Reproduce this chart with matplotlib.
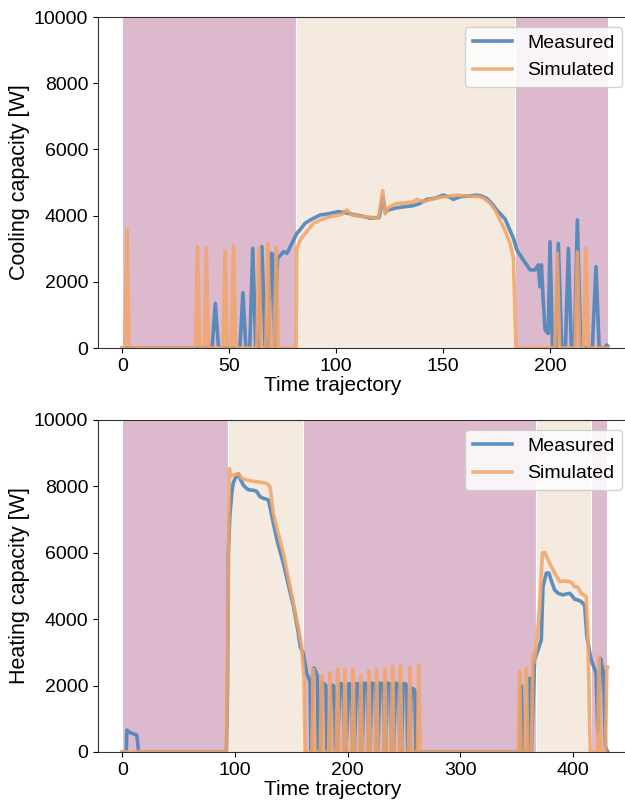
import matplotlib.pyplot as plt

plt.rcParams["font.family"] = ["Liberation Sans", "DejaVu Sans"]
plt.rcParams["font.size"] = 14

# ---- cooling (top panel) ----
cool_meas_t = [0, 42, 43.5, 45, 55, 56.4, 57.8, 59.6, 61, 62.4, 63.8, 65.3, 66.8, 68.4, 69.6, 70.5,
               71.3, 72.6, 75.4, 77, 79.3, 81.6, 83, 85.5, 88, 92.5, 96, 101, 105, 108.9, 112, 115.9,
               120.2, 121.8, 123, 124.5, 128, 132.2, 136, 139.3, 142.4, 146, 150.1, 153, 154.8, 158,
               162, 165.7, 168, 170.4, 173, 175.1, 179, 183, 184.5, 187.5, 190.7, 193, 194.5, 195.3,
               196, 196.9, 197.7, 199.2, 200, 201.2, 202.8, 203.9, 205.5, 207.2, 208.6, 210, 211.4,
               212.8, 214.4, 219.8, 221.5, 223, 225.8, 226.5, 227]
cool_meas_v = [0, 0, 1350, 0, 0, 1670, 0, 0, 3010, 0, 0, 3060, 0, 0, 2860, 2820,
               50, 2700, 2910, 2860, 3160, 3460, 3560, 3770, 3870, 4020, 4050, 4120, 4080, 4020, 3990, 3920,
               3950, 4550, 4100, 4170, 4230, 4270, 4300, 4370, 4490, 4520, 4620, 4560, 4490, 4570,
               4590, 4620, 4590, 4520, 4350, 4170, 3900, 3300, 2960, 2660, 2360, 2360, 2510, 1850,
               2510, 1350, 540, 440, 3210, 0, 0, 3160, 0, 0, 3010, 0, 0,
               3870, 0, 0, 2460, 0, 0, 90, 60]

cool_sim_t = [0, 1.2, 2.2, 3.2, 34.2, 35.2, 36.2, 38.3, 39.3, 40.3, 47.1, 48.1, 49.1, 51, 52, 53,
              62.9, 63.9, 64.9, 67.1, 68.1, 69.1, 71, 72, 73, 81.3, 81.6, 83.5, 86.3, 89.4, 93, 97.2,
              101, 103, 105, 107.3, 110, 112.8, 116, 119.8, 121.8, 123, 124.5, 128.4, 132, 136.1,
              137.7, 140.8, 144, 148.6, 152, 156.4, 160, 164, 167.3, 169, 172, 174.5, 176.6, 179,
              181.3, 182.9, 184.1, 202.3, 203.4, 204.5, 211.7, 212.8, 213.9, 215.7, 216.8, 217.9, 227]
cool_sim_v = [0, 0, 3580, 0, 0, 3060, 0, 0, 3020, 0, 0, 2940, 0, 0, 3090, 0,
              0, 3020, 0, 0, 3160, 0, 0, 3040, 0, 0, 3010, 3300, 3520, 3770, 3880, 3970,
              4010, 4050, 4170, 4020, 3990, 3970, 3950, 3920, 4750, 4050, 4250, 4370, 4380, 4420,
              4490, 4420, 4480, 4550, 4580, 4620, 4600, 4580, 4570, 4530, 4370, 4150, 3870, 3550,
              3160, 2710, 0, 0, 2860, 0, 0, 2900, 0, 0, 3010, 0, 0]

# operating modes: (start, end, mode) 0 = off/cycling, 1 = steady
cool_modes = [(0, 81.3, 0), (81.3, 183.6, 1), (183.6, 227, 0)]

# ---- heating (bottom panel) ----
heat_meas_t = [0, 3.5, 4.1, 6, 9, 12, 13, 14.5, 92.5, 93.5, 94.2, 95.5, 97.2, 98.5, 100.2, 103.1,
               105, 107.5, 110, 112, 114.9, 117, 119.4, 122, 125.3, 127.5, 129.8, 131, 134.1, 138,
               143, 147, 152, 156, 158, 160.7, 163.7, 166.7, 167.6,
               169, 170.2, 172, 173.2, 174, 175.8, 177.2, 179.5, 180.8, 181.6, 183.5, 185.9, 187.5,
               188.5, 189.3, 191, 193.3, 195, 196.2, 197, 198.5, 201.2, 202.7, 203.6, 204.4, 206,
               208, 210, 210.9, 211.6, 213, 214.5, 216.5, 217.6, 218.4, 220, 221.4, 223.5, 224.6,
               225.4, 227, 228.7, 230.7, 231.8, 232.6, 234, 235.2, 237.3, 238.4, 239.2, 241, 242.6,
               244.6, 245.7, 246.5, 248, 249.4, 251.5, 252.6, 253.4, 255, 256.8, 258.6, 259.8, 260.6,
               353, 354.3, 355.7, 360.3, 361.7, 363.2, 366.1, 369.1, 372, 373.5, 376.5, 378.8, 381,
               383.9, 387, 391.2, 394, 397.2, 399.5, 401.6, 404.5, 407.5, 410.5, 412.5, 416.3, 420.7,
               422.2, 424.6, 427.3, 429, 431]
heat_meas_v = [0, 0, 660, 600, 560, 520, 500, 0, 0, 2000, 5980, 7100, 7800, 8100, 8240, 8380,
               8200, 8040, 7950, 7900, 7890, 7880, 7850, 7700, 7640, 7620, 7590, 7400, 6890, 6300,
               5690, 5100, 4390, 3650, 3170, 2970, 2370, 2120, 0,
               2300, 2530, 2400, 2300, 0, 0, 2100, 2050, 2000, 0, 0, 2020, 2000,
               1950, 0, 0, 2060, 2050, 2000, 0, 0, 2060, 2050, 2000, 0, 0,
               2060, 2050, 1980, 0, 0, 2070, 2060, 2000, 0, 0, 2070, 2060, 2000,
               0, 0, 2070, 2060, 2000, 0, 0, 2070, 2060, 2000, 0, 0, 2070,
               2060, 2000, 0, 0, 2060, 2050, 1980, 0, 0, 1920, 1900, 1850, 0,
               0, 1990, 0, 0, 2220, 0, 2770, 3070, 3370, 4980, 5390, 5390, 5150,
               4880, 4780, 4730, 4760, 4780, 4700, 4600, 4580, 4530, 4420, 3470, 2770, 2370,
               560, 2820, 2370, 160, 0]

heat_sim_t = [0, 92.5, 95.1, 96, 97.2, 100, 103.1, 106, 110.5, 115, 119.4, 124, 128.3, 131.2,
              134.1, 138, 143, 147, 152, 156, 159.3, 161.3, 162.3,
              168.3, 169.6, 170.9, 175.7, 177, 178.3, 183.1, 184.4, 185.7, 189.9, 191.2, 192.5,
              196.4, 197.7, 199, 203.7, 205, 206.3, 210.6, 211.9, 213.2, 217.7, 219, 220.3,
              224.5, 225.8, 227.1, 231.9, 233.2, 234.5, 238.7, 240, 241.3, 245.7, 247, 248.3,
              254, 255.3, 256.6, 262, 263.3, 264.6,
              351.5, 352.8, 354, 357.5, 358.8, 360, 363.3, 364.6, 365.5, 367.6, 370.6, 373, 375,
              379.4, 383.9, 388.3, 392, 397.2, 399, 401.6, 404, 407.5, 411.9, 413.4, 415.5, 422,
              423.2, 424.4, 429, 430.2, 431]
heat_sim_v = [0, 0, 8540, 8300, 8330, 8350, 8380, 8250, 8190, 8160, 8140, 8120, 8090, 7990,
              7190, 6650, 5980, 5300, 4480, 3800, 3170, 2170, 0,
              0, 2490, 0, 0, 2290, 0, 0, 2400, 0, 0, 2490, 0,
              0, 2490, 0, 0, 2490, 0, 0, 2290, 0, 0, 2450, 0,
              0, 2490, 0, 0, 2490, 0, 0, 2590, 0, 0, 2590, 0,
              0, 2560, 0, 0, 2620, 0,
              0, 2420, 0, 0, 2520, 0, 0, 2920, 2700, 3170, 4390, 5990, 6010,
              5690, 5390, 5130, 5150, 5130, 5100, 4980, 4980, 4780, 4680, 3470, 0, 0,
              2870, 0, 0, 2570, 2560]

heat_modes = [(0, 93.7, 0), (93.7, 160.7, 1), (160.7, 367, 0), (367, 415.8, 1), (415.8, 430, 0)]

MODE_COLORS = {0: "#DDB9CE", 1: "#F4EAE0"}
BLUE = "#4C84BA"
ORANGE = "#F2A466"


def draw_panel(ax, t_meas, v_meas, t_sim, v_sim, modes, ylabel):
    for start, end, mode in modes:
        ax.axvspan(start, end, facecolor=MODE_COLORS[mode], edgecolor="white", linewidth=0.8, zorder=0)

    ax.plot(t_meas, v_meas, color=BLUE, lw=2.6, alpha=0.9, label="Measured", zorder=2)
    ax.plot(t_sim, v_sim, color=ORANGE, lw=2.6, alpha=0.85, label="Simulated", zorder=3)

    ax.set_ylim(0, 10000)
    ax.set_yticks([0, 2000, 4000, 6000, 8000, 10000])
    # figure is cut on the right, so the label sits left of the axes centre
    ax.set_xlabel("Time trajectory", labelpad=1, x=0.44, fontsize=15)
    ax.set_ylabel(ylabel, fontsize=15.5, labelpad=3)
    ax.spines["right"].set_visible(False)
    for s in ["left", "bottom", "top"]:
        ax.spines[s].set_color("#333333")
    ax.legend(loc="upper right", fontsize=14, framealpha=0.85)


fig = plt.figure(figsize=(6.25, 8), dpi=100)
ax1 = fig.add_axes([0.1568, 0.565, 0.8544, 0.41375])
ax2 = fig.add_axes([0.1568, 0.06, 0.8544, 0.415])

draw_panel(ax1, cool_meas_t, cool_meas_v, cool_sim_t, cool_sim_v, cool_modes, "Cooling capacity [W]")
draw_panel(ax2, heat_meas_t, heat_meas_v, heat_sim_t, heat_sim_v, heat_modes, "Heating capacity [W]")

ax1.set_xticks([0, 50, 100, 150, 200])
ax2.set_xticks([0, 100, 200, 300, 400])

fig.savefig("out.png", dpi=100)
